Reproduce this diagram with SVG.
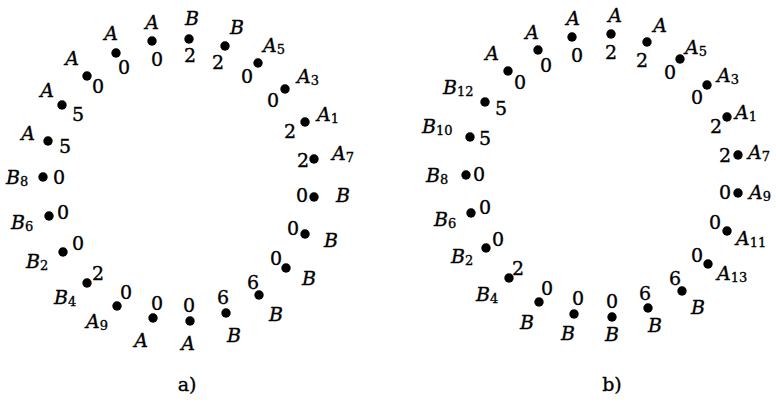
<svg xmlns="http://www.w3.org/2000/svg" width="776" height="414" viewBox="0 0 776 414">
<style>
text{font-family:'DejaVu Serif',serif;font-size:19px;fill:#000;stroke:#000;stroke-width:0.35}
.v{font-style:italic}
.m{text-anchor:middle}
.s{font-size:13px;font-style:normal}
circle{fill:#000}
</style>
<defs><circle id="d" r="4.7"/></defs>
<g id="diagram-a">
<g id="a1"><use href="#d" x="152" y="41"/><text class="v m" x="152" y="29">A</text><text class="m" x="157" y="66">0</text></g>
<g id="a2"><use href="#d" x="116" y="53"/><text class="v m" x="111" y="40">A</text><text class="m" x="124" y="74">0</text></g>
<g id="a3"><use href="#d" x="87" y="76"/><text class="v m" x="72" y="65">A</text><text class="m" x="98" y="93">0</text></g>
<g id="a4"><use href="#d" x="62" y="105"/><text class="v m" x="47" y="97">A</text><text class="m" x="78" y="121">5</text></g>
<g id="a5"><use href="#d" x="48" y="141"/><text class="v m" x="28" y="140">A</text><text class="m" x="65" y="153">5</text></g>
<g id="a6"><use href="#d" x="43" y="177"/><text class="v" x="6" y="184">B<tspan class="s" dy="2">8</tspan></text><text class="m" x="59" y="184">0</text></g>
<g id="a7"><use href="#d" x="49" y="216"/><text class="v" x="11" y="229">B<tspan class="s" dy="2">6</tspan></text><text class="m" x="63" y="219">0</text></g>
<g id="a8"><use href="#d" x="63" y="252"/><text class="v" x="26" y="268">B<tspan class="s" dy="2">2</tspan></text><text class="m" x="78" y="250">0</text></g>
<g id="a9"><use href="#d" x="87" y="283"/><text class="v" x="54" y="304">B<tspan class="s" dy="2">4</tspan></text><text class="m" x="98" y="280">2</text></g>
<g id="a10"><use href="#d" x="117" y="306"/><text class="v" x="86" y="328">A<tspan class="s" dy="2">9</tspan></text><text class="m" x="126" y="299">0</text></g>
<g id="a11"><use href="#d" x="153" y="318"/><text class="v m" x="141" y="347">A</text><text class="m" x="157" y="310">0</text></g>
<g id="a12"><use href="#d" x="190" y="321"/><text class="v m" x="188" y="350">A</text><text class="m" x="189" y="312">0</text></g>
<g id="a13"><use href="#d" x="226" y="313"/><text class="v m" x="234" y="342">B</text><text class="m" x="223" y="304">6</text></g>
<g id="a14"><use href="#d" x="259" y="295"/><text class="v m" x="276" y="321">B</text><text class="m" x="253" y="289">6</text></g>
<g id="a15"><use href="#d" x="286" y="268"/><text class="v m" x="309" y="285">B</text><text class="m" x="276" y="265">0</text></g>
<g id="a16"><use href="#d" x="305" y="234"/><text class="v m" x="331" y="247">B</text><text class="m" x="293" y="235">0</text></g>
<g id="a17"><use href="#d" x="314" y="197"/><text class="v m" x="343" y="202">B</text><text class="m" x="302" y="202">0</text></g>
<g id="a18"><use href="#d" x="314" y="159"/><text class="v" x="332" y="160">A<tspan class="s" dy="2">7</tspan></text><text class="m" x="303" y="167">2</text></g>
<g id="a19"><use href="#d" x="305" y="122"/><text class="v" x="317" y="121">A<tspan class="s" dy="2">1</tspan></text><text class="m" x="290" y="138">2</text></g>
<g id="a20"><use href="#d" x="285" y="89"/><text class="v" x="297" y="83">A<tspan class="s" dy="2">3</tspan></text><text class="m" x="273" y="107">0</text></g>
<g id="a21"><use href="#d" x="258" y="63"/><text class="v" x="263" y="52">A<tspan class="s" dy="2">5</tspan></text><text class="m" x="247" y="83">0</text></g>
<g id="a22"><use href="#d" x="225" y="46"/><text class="v m" x="237" y="34">B</text><text class="m" x="218" y="69">2</text></g>
<g id="a23"><use href="#d" x="189" y="39"/><text class="v m" x="192" y="25">B</text><text class="m" x="190" y="62">2</text></g>
<text class="m" x="187" y="391">a)</text>
</g>
<g id="diagram-b">
<g id="b1"><use href="#d" x="572" y="37"/><text class="v m" x="573" y="25">A</text><text class="m" x="577" y="62">0</text></g>
<g id="b2"><use href="#d" x="538" y="50"/><text class="v m" x="532" y="39">A</text><text class="m" x="546" y="72">0</text></g>
<g id="b3"><use href="#d" x="508" y="71"/><text class="v m" x="492" y="60">A</text><text class="m" x="520" y="89">0</text></g>
<g id="b4"><use href="#d" x="485" y="102"/><text class="v" x="443" y="94">B<tspan class="s" dy="2">12</tspan></text><text class="m" x="501" y="115">5</text></g>
<g id="b5"><use href="#d" x="470" y="137"/><text class="v" x="422" y="133">B<tspan class="s" dy="2">10</tspan></text><text class="m" x="485" y="145">5</text></g>
<g id="b6"><use href="#d" x="466" y="175"/><text class="v" x="426" y="182">B<tspan class="s" dy="2">8</tspan></text><text class="m" x="479" y="181">0</text></g>
<g id="b7"><use href="#d" x="471" y="213"/><text class="v" x="434" y="226">B<tspan class="s" dy="2">6</tspan></text><text class="m" x="485" y="214">0</text></g>
<g id="b8"><use href="#d" x="486" y="248"/><text class="v" x="451" y="263">B<tspan class="s" dy="2">2</tspan></text><text class="m" x="498" y="246">0</text></g>
<g id="b9"><use href="#d" x="509" y="278"/><text class="v" x="476" y="301">B<tspan class="s" dy="2">4</tspan></text><text class="m" x="518" y="275">2</text></g>
<g id="b10"><use href="#d" x="539" y="302"/><text class="v m" x="527" y="329">B</text><text class="m" x="547" y="295">0</text></g>
<g id="b11"><use href="#d" x="574" y="314"/><text class="v m" x="568" y="340">B</text><text class="m" x="578" y="305">0</text></g>
<g id="b12"><use href="#d" x="612" y="317"/><text class="v m" x="612" y="341">B</text><text class="m" x="612" y="308">0</text></g>
<g id="b13"><use href="#d" x="648" y="308"/><text class="v m" x="655" y="332">B</text><text class="m" x="645" y="300">6</text></g>
<g id="b14"><use href="#d" x="682" y="291"/><text class="v m" x="698" y="314">B</text><text class="m" x="675" y="285">6</text></g>
<g id="b15"><use href="#d" x="708" y="264"/><text class="v" x="717" y="280">A<tspan class="s" dy="2">13</tspan></text><text class="m" x="697" y="262">0</text></g>
<g id="b16"><use href="#d" x="727" y="231"/><text class="v" x="736" y="245">A<tspan class="s" dy="2">11</tspan></text><text class="m" x="715" y="229">0</text></g>
<g id="b17"><use href="#d" x="738" y="193"/><text class="v" x="749" y="199">A<tspan class="s" dy="2">9</tspan></text><text class="m" x="725" y="199">0</text></g>
<g id="b18"><use href="#d" x="738" y="155"/><text class="v" x="748" y="159">A<tspan class="s" dy="2">7</tspan></text><text class="m" x="725" y="162">2</text></g>
<g id="b19"><use href="#d" x="727" y="117"/><text class="v" x="735" y="119">A<tspan class="s" dy="2">1</tspan></text><text class="m" x="716" y="133">2</text></g>
<g id="b20"><use href="#d" x="707" y="85"/><text class="v" x="717" y="82">A<tspan class="s" dy="2">3</tspan></text><text class="m" x="697" y="104">0</text></g>
<g id="b21"><use href="#d" x="680" y="59"/><text class="v" x="685" y="54">A<tspan class="s" dy="2">5</tspan></text><text class="m" x="670" y="79">0</text></g>
<g id="b22"><use href="#d" x="647" y="42"/><text class="v m" x="660" y="32">A</text><text class="m" x="642" y="67">2</text></g>
<g id="b23"><use href="#d" x="611" y="34"/><text class="v m" x="615" y="22">A</text><text class="m" x="611" y="59">2</text></g>
<text class="m" x="612" y="391">b)</text>
</g>
</svg>
